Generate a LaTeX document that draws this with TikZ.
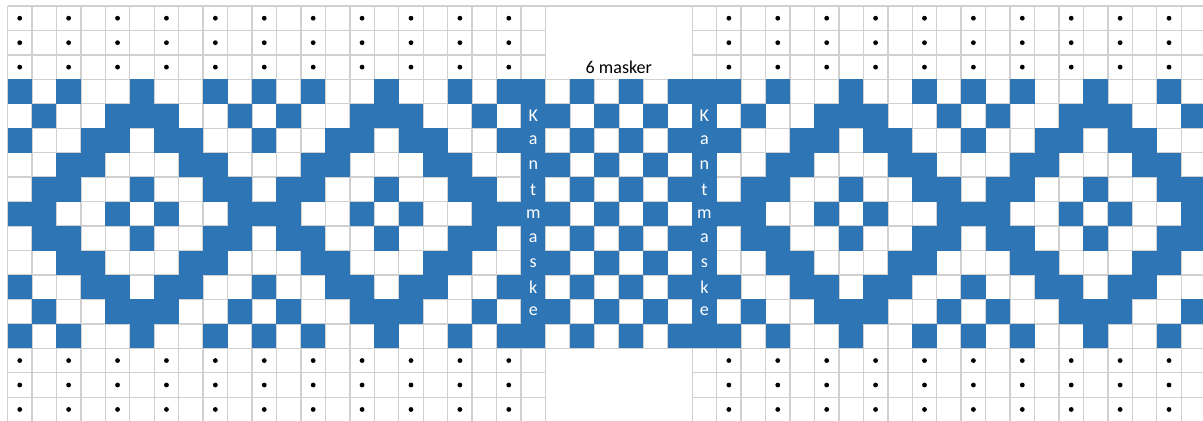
\documentclass[tikz,border=0pt]{standalone}
\usepackage{fontspec}
\setmainfont{Carlito}
\usepackage{xcolor}
\usepackage{tikz}
\usetikzlibrary{positioning}
\definecolor{knitblue}{RGB}{46,117,182}
\definecolor{gridgray}{RGB}{208,208,208}
% one column per fold d=0..5, rows 3..13 (1 = blue)
\def\patbits{{1,0,1,0,0,1,0,0,1,0,1,
              0,1,0,0,1,1,1,0,0,1,0,
              1,0,0,1,1,0,1,1,0,0,1,
              0,0,1,1,0,0,0,1,1,0,0,
              0,1,1,0,0,1,0,0,1,1,0,
              1,1,0,0,1,0,1,0,0,1,1}}

\begin{document}
\begin{tikzpicture}[x=0.5cm,y=-0.5cm,
  gridline/.style={draw=gridgray,line width=0.8pt},
  knit/.style={fill=knitblue},
  purl/.style={fill=black},
  kant/.style={font=\fontsize{10.5}{12}\selectfont,text=white,inner sep=0pt},
  lbl/.style={font=\fontsize{10.5}{12}\selectfont,inner sep=0pt,anchor=base}
]
\useasboundingbox[fill=white] (-0.307,-0.245) rectangle (48.89,16.97);

% grid
\foreach \x in {0,...,22} \draw[gridline] (\x,0) -- (\x,17);
\foreach \x in {28,...,49} \draw[gridline] (\x,0) -- (\x,17);
\foreach \x in {23,...,27} \draw[gridline] (\x,3) -- (\x,14);
\foreach \y in {0,...,17} {
  \draw[gridline] (0,\y) -- (22,\y);
  \draw[gridline] (28,\y) -- (49,\y);
}
\foreach \y in {0,3,4,...,14,17} \draw[gridline] (22,\y) -- (28,\y);

% pattern rows
\foreach \c in {0,...,48} {
  \foreach \r in {3,...,13} {
    \pgfmathtruncatemacro\dd{\c<21 ? mod(\c,10) : mod(\c+1,10)}
    \pgfmathtruncatemacro\ee{min(\dd,10-\dd)}
    \pgfmathtruncatemacro\ix{\ee*11+\r-3}
    \pgfmathtruncatemacro\bit{(\c==21 || \c==28) ? 1 : ((\c>21 && \c<28) ? (mod(\c+\r,2)==0) : \patbits[\ix])}
    \ifnum\bit=1 \fill[knit] (\c,\r) rectangle ++(1,1); \fi
  }
}

% dots
\foreach \y in {0,1,2,14,15,16} {
  \foreach \x in {0,2,...,20} \fill[purl] (\x+0.5,\y+0.5) circle (1.4pt);
  \foreach \x in {29,31,...,47} \fill[purl] (\x+0.5,\y+0.5) circle (1.4pt);
}

% edge stitch labels
\foreach \ch [count=\i from 4] in {K,a,n,t,m,a,s,k,e} {
  \node[kant] (kl\i) at (21.5,\i+0.5) {\ch};
  \node[kant] (kr\i) at (28.5,\i+0.5) {\ch};
}
\node[lbl] (masker) at (25,2.78) {6 masker};
\end{tikzpicture}
\end{document}
